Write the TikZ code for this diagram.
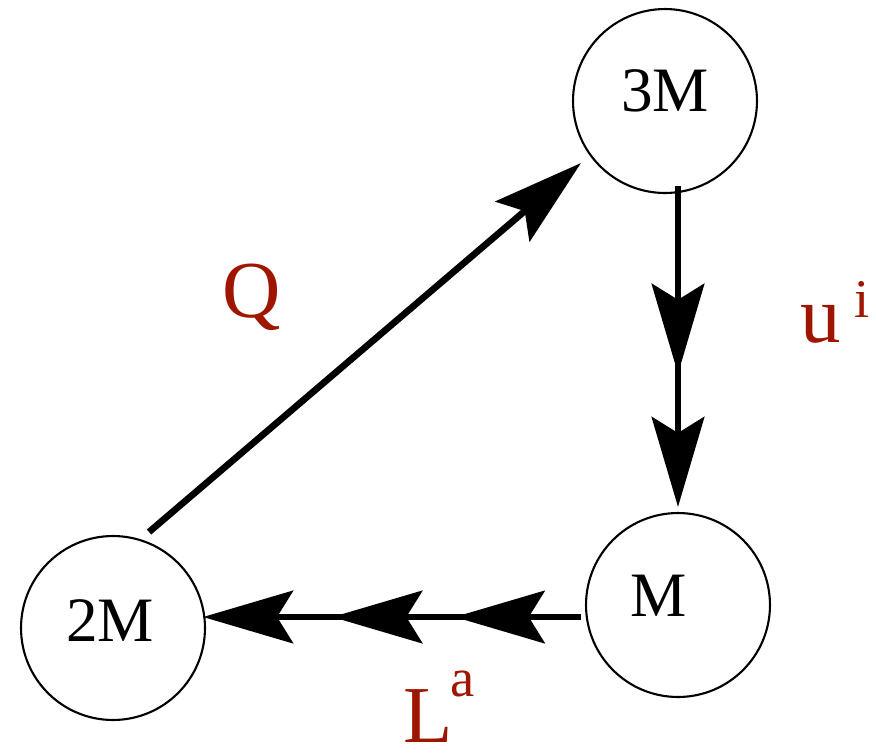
\documentclass[tikz,border=0pt]{standalone}
\usepackage{fontspec}
\setmainfont{Liberation Serif}
\usetikzlibrary{arrows.meta,calc,decorations.markings}
\definecolor{labred}{RGB}{158,22,0}
\begin{document}
\begin{tikzpicture}[x=0.02cm, y=-0.02cm,
    state/.style={circle, draw, line width=1.2pt, minimum size=3.68cm, inner sep=0pt},
    statetext/.style={font=\fontsize{36}{40}\selectfont},
    conn/.style={line width=3.8pt, -{Stealth[length=1.8cm, width=1.05cm, inset=0.32cm]}},
    lab/.style={text=labred, font=\fontsize{46}{50}\selectfont, inner sep=0pt},
    >={Stealth[length=1.8cm, width=1.05cm, inset=0.32cm]}]
    \useasboundingbox (0,0) rectangle (876,752);

    % the three states
    \node[state, label={[statetext, yshift=5.7pt]center:3M}] (3M) at (665,101) {};
    \node[state, label={[statetext, xshift=-10.8pt, yshift=5.1pt]center:M}] (M) at (678,605) {};
    \node[state, label={[statetext, xshift=-1.7pt, yshift=4.5pt]center:2M}] (2M) at (113,628) {};

    % connectors
    \coordinate (qstart) at ($(2M.center)+(36,-96)$);
    \coordinate (qend) at ($(3M.center)+(-84,62)$);
    \draw[conn] (qstart) -- (qend);

    \coordinate (ustart) at ($(3M.south -| M.north)+(0,-8)$);
    \coordinate (uend) at ($(M.north)+(0,-5)$);
    \draw[conn, postaction={decorate}, decoration={markings,
        mark=at position 0.585 with {\arrow{>}}}] (ustart) -- (uend);

    \coordinate (lstart) at ($(M.west)+(-4,12)$);
    \coordinate (lend) at ($(lstart -| 2M.east)+(-3,0)$);
    \draw[conn, postaction={decorate}, decoration={markings,
        mark=at position 0.334 with {\arrow{>}},
        mark=at position 0.658 with {\arrow{>}}}] (lstart) -- (lend);

    % labels
    \node[lab, anchor=base] (qlab) at (252,317) {Q};
    \node[lab, anchor=base west] (ulab) at (800,342)
        {u\hspace{8pt}\raisebox{14pt}{\fontsize{31}{31}\selectfont i}};
    \node[lab, anchor=base west] (llab) at (403,742)
        {L\hspace{-1pt}\raisebox{26pt}{\fontsize{31}{31}\selectfont a}};
\end{tikzpicture}
\end{document}
